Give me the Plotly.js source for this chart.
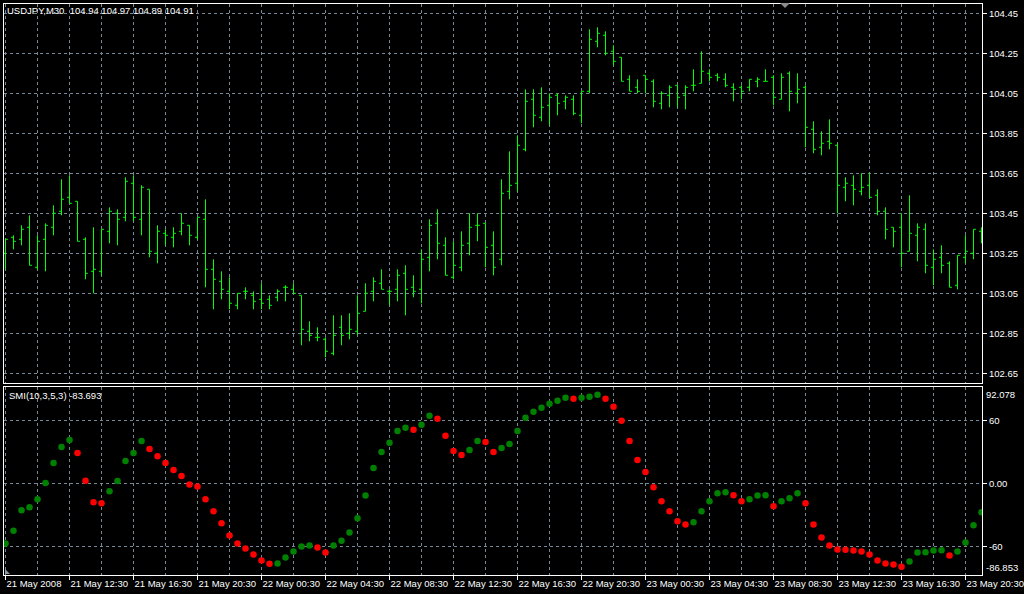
<!DOCTYPE html>
<html><head><meta charset="utf-8">
<script src="https://cdn.plot.ly/plotly-3.0.1.min.js"></script>
<style>html,body{margin:0;padding:0;background:#000;}#chart{width:1024px;height:594px;}</style>
</head><body><div id="chart"></div>
<script>
const symbolTitle = "USDJPY,M30\u00a0\u00a0104.94 104.97 104.89 104.91";
const smiTitle = "SMI(10,3,5,3) -83.693";

const barOpen = [103.25,103.33,103.32,103.38,103.18,103.32,103.38,103.46,103.53,103.51,
 103.32,103.16,103.16,103.36,103.45,103.43,103.60,103.42,103.57,103.25,
 103.35,103.33,103.36,103.39,103.33,103.42,103.17,103.11,103.06,102.99,
 103.06,103.04,103.02,103.02,103.03,103.08,103.07,103.04,102.86,102.83,
 102.82,102.75,102.88,102.85,102.86,102.96,103.06,103.10,103.06,103.07,
 103.15,103.08,103.07,103.23,103.40,103.29,103.13,103.18,103.30,103.39,
 103.40,103.29,103.22,103.56,103.60,103.77,104.02,103.93,103.99,104.04,
 104.01,104.02,103.94,104.06,104.31,104.34,104.26,104.23,104.12,104.08,
 104.14,104.11,104.00,104.04,104.09,104.04,104.09,104.10,104.15,104.14,
 104.12,104.08,104.08,104.08,104.11,104.11,104.13,104.02,104.15,104.05,
 104.08,103.87,103.78,103.81,103.79,103.58,103.59,103.56,103.59,103.54,
 103.46,103.38,103.38,103.26,103.34,103.37,103.18,103.23,103.20,103.09,
 103.23,103.25,103.36];
const barHigh = [103.32,103.34,103.39,103.44,103.34,103.40,103.49,103.62,103.64,103.51,
 103.33,103.38,103.37,103.48,103.47,103.63,103.64,103.59,103.57,103.39,
 103.37,103.38,103.45,103.39,103.43,103.52,103.22,103.16,103.13,103.05,
 103.08,103.06,103.10,103.04,103.07,103.09,103.10,103.04,102.91,102.88,
 102.83,102.94,102.94,102.95,103.04,103.10,103.13,103.17,103.07,103.17,
 103.19,103.14,103.27,103.42,103.47,103.33,103.31,103.36,103.45,103.45,
 103.40,103.36,103.62,103.76,103.84,104.07,104.07,104.08,104.05,104.05,
 104.04,104.04,104.06,104.37,104.38,104.36,104.29,104.23,104.14,104.12,
 104.14,104.12,104.06,104.09,104.09,104.09,104.17,104.26,104.17,104.15,
 104.15,104.10,104.09,104.12,104.13,104.17,104.14,104.15,104.16,104.15,
 104.09,103.91,103.86,103.92,103.80,103.63,103.64,103.65,103.65,103.57,
 103.48,103.38,103.45,103.54,103.40,103.40,103.27,103.29,103.21,103.24,
 103.34,103.37,103.38];
const barLow = [103.17,103.27,103.29,103.19,103.17,103.16,103.34,103.44,103.50,103.31,
 103.12,103.05,103.14,103.30,103.29,103.41,103.41,103.34,103.23,103.20,
 103.29,103.28,103.34,103.29,103.32,103.08,102.97,103.02,102.97,102.97,
 103.02,102.97,102.97,102.97,103.01,103.01,103.05,102.79,102.81,102.81,
 102.73,102.74,102.79,102.82,102.84,102.96,103.01,103.07,102.99,103.01,
 102.94,103.03,103.00,103.16,103.22,103.14,103.12,103.16,103.24,103.31,
 103.18,103.14,103.19,103.52,103.56,103.76,103.88,103.91,103.89,103.94,
 103.97,103.94,103.90,104.05,104.28,104.24,104.19,104.11,104.06,104.05,
 104.05,103.98,103.97,103.98,103.98,103.97,104.06,104.10,104.11,104.11,
 104.08,104.01,104.02,104.06,104.08,104.11,103.99,104.02,103.96,104.00,
 103.78,103.75,103.74,103.77,103.45,103.51,103.49,103.54,103.53,103.44,
 103.32,103.28,103.18,103.26,103.21,103.15,103.09,103.15,103.08,103.07,
 103.20,103.22,103.30];
const barClose = [103.32,103.31,103.37,103.19,103.31,103.39,103.45,103.52,103.50,103.31,
 103.15,103.17,103.37,103.46,103.42,103.61,103.43,103.58,103.26,103.36,
 103.34,103.35,103.40,103.34,103.43,103.17,103.12,103.07,103.00,103.05,
 103.06,103.01,103.00,102.99,103.06,103.08,103.05,102.87,102.84,102.83,
 102.76,102.84,102.84,102.87,102.95,103.05,103.11,103.07,103.06,103.14,
 103.07,103.06,103.22,103.39,103.30,103.14,103.19,103.29,103.38,103.39,
 103.28,103.18,103.55,103.59,103.79,104.01,103.94,103.98,104.03,104.00,
 104.03,103.95,104.06,104.32,104.35,104.25,104.21,104.11,104.06,104.06,
 104.12,104.01,104.05,104.08,104.03,104.08,104.09,104.16,104.13,104.13,
 104.09,104.07,104.06,104.12,104.12,104.11,104.03,104.13,104.06,104.07,
 103.88,103.77,103.80,103.80,103.59,103.60,103.57,103.58,103.53,103.46,
 103.37,103.36,103.25,103.35,103.38,103.19,103.22,103.19,103.08,103.24,
 103.26,103.37,103.35];

const smiValues = [-56.8,-44.7,-25.2,-22.4,-14.7,0.6,19.7,35.0,41.7,29.3,
 2.9,-17.6,-18.6,-7.1,2.5,21.6,29.3,40.8,33.1,26.1,
 19.7,13.0,7.3,-0.7,-2.6,-14.7,-26.2,-37.7,-49.2,-56.8,
 -61.6,-67.4,-73.1,-76.2,-75.9,-70.2,-64.5,-59.7,-58.8,-60.7,
 -65.5,-58.8,-54.2,-46.3,-32.9,-11.2,14.9,30.2,38.9,50.3,
 53.2,51.3,56.1,64.7,61.8,45.6,31.2,27.4,32.2,40.8,
 39.8,30.2,34.1,37.9,50.3,62.8,68.5,72.3,76.2,79.0,
 81.9,81.0,81.9,82.9,84.8,81.0,73.3,59.9,40.8,22.6,
 11.1,-3.3,-16.7,-26.2,-35.8,-38.7,-36.7,-26.2,-16.7,-9.0,
 -8.0,-10.9,-16.7,-14.7,-11.1,-10.9,-21.4,-16.7,-13.8,-9.0,
 -18.6,-38.7,-51.1,-58.8,-62.6,-62.8,-63.5,-64.5,-67.4,-73.1,
 -76.0,-76.9,-78.9,-74.1,-65.5,-65.3,-63.5,-63.3,-68.3,-64.5,
 -55.9,-39.6,-27.2];

const timeLabels = ["21 May 2008","21 May 12:30","21 May 16:30","21 May 20:30","22 May 00:30",
 "22 May 04:30","22 May 08:30","22 May 12:30","22 May 16:30","22 May 20:30","23 May 00:30",
 "23 May 04:30","23 May 08:30","23 May 12:30","23 May 16:30","23 May 20:30"];
const priceTicks = [102.65,102.85,103.05,103.25,103.45,103.65,103.85,104.05,104.25,104.45];
const smiTicks = [60, 0, -60];
const smiTickText = ["60", "0.00", "-60"];
const smiMax = 92.078, smiMin = -86.853;

// ---- layout geometry ----
const W = 1024, H = 594;
const L = 4, R = 42, T = 4, B = 19;
const plotH = H - T - B;
const pyToPaper = py => (H - B - py) / plotH;
const pxToPaper = px => (px - L) / (W - L - R);
const barsPerLabel = 8, barsPerGrid = 4;
const barPx = 8;
const x0 = -1.5 / barPx;
const x1 = x0 + (W - L - R) / barPx;

const idx = barOpen.map((_, i) => i);
const labelPos = timeLabels.map((_, k) => k * barsPerLabel);
const minorPos = labelPos.map(v => v + barsPerGrid);

const smiColors = smiValues.map((v, i) => (i === 0 || v > smiValues[i - 1]) ? '#008000' : '#ff0000');

const FONT = 'Liberation Sans, Arial, sans-serif';
const GRID = '#778899';
const DASH = '3px,3px';

const traces = [
  {
    type: 'ohlc', x: idx, open: barOpen, high: barHigh, low: barLow, close: barClose,
    xaxis: 'x2', yaxis: 'y', tickwidth: 0.3,
    increasing: {line: {color: '#00ff00', width: 1}},
    decreasing: {line: {color: '#00ff00', width: 1}},
    hoverinfo: 'skip'
  },
  {
    type: 'scatter', mode: 'markers', x: idx, y: smiValues, xaxis: 'x', yaxis: 'y2',
    marker: {color: smiColors, size: 6.5, line: {width: 0}}, hoverinfo: 'skip'
  }
];

const axisCommon = {
  showline: true, mirror: true, linecolor: '#ffffff', linewidth: 1,
  zeroline: false, gridcolor: GRID, griddash: DASH, gridwidth: 1,
  tickfont: {family: FONT, size: 9.5, color: '#ffffff'}
};

function tri(pts) {
  return 'M' + pts.map(p => pxToPaper(p[0]) + ',' + pyToPaper(p[1])).join(' L') + ' Z';
}

const layout = {
  width: W, height: H,
  margin: {l: L, r: R, t: T, b: B, pad: 0},
  paper_bgcolor: '#000000', plot_bgcolor: '#000000',
  showlegend: false,
  xaxis: Object.assign({}, axisCommon, {
    anchor: 'y2', range: [x0, x1], tickmode: 'array', tickvals: labelPos, ticktext: timeLabels,
    ticks: 'outside', ticklen: 4, tickcolor: '#ffffff', ticklabelposition: 'outside right',
    ticklabeloverflow: 'allow', tickangle: 0, automargin: false,
    showgrid: true, rangeslider: {visible: false},
    minor: {tickmode: 'array', tickvals: minorPos, showgrid: true, gridcolor: GRID, griddash: DASH, gridwidth: 1, ticks: ''}
  }),
  xaxis2: Object.assign({}, axisCommon, {
    anchor: 'y', matches: 'x', range: [x0, x1], tickmode: 'linear', tick0: 0, dtick: barsPerGrid,
    showticklabels: false, ticks: '', showgrid: true, rangeslider: {visible: false}
  }),
  yaxis: Object.assign({}, axisCommon, {
    domain: [pyToPaper(383), 1], anchor: 'x2', side: 'right', automargin: false,
    range: [104.45 - (383 - 13.3) / 200, 104.45 + (13.3 - 4) / 200],
    tickmode: 'array', tickvals: priceTicks, ticktext: priceTicks.map(v => v.toFixed(2)),
    ticks: 'outside', ticklen: 4, tickcolor: '#ffffff', showgrid: true
  }),
  yaxis2: Object.assign({}, axisCommon, {
    domain: [0, pyToPaper(387)], anchor: 'x', side: 'right', automargin: false,
    range: [smiMin, smiMax],
    tickmode: 'array', tickvals: smiTicks, ticktext: smiTickText,
    ticks: 'outside', ticklen: 4, tickcolor: '#ffffff', showgrid: true
  }),
  shapes: [
    {type: 'path', xref: 'paper', yref: 'paper', path: tri([[780, 3], [790, 3], [785, 8]]),
     fillcolor: '#8c8c8c', line: {width: 0}},
    {type: 'path', xref: 'paper', yref: 'paper', path: tri([[5, 569], [5, 574], [10, 574]]),
     fillcolor: '#8c9aa8', line: {width: 0}}
  ],
  annotations: [
    {text: symbolTitle, xref: 'paper', yref: 'paper', x: pxToPaper(5), y: pyToPaper(11),
     xanchor: 'left', yanchor: 'middle', showarrow: false, font: {family: FONT, size: 9.5, color: '#ffffff'}},
    {text: smiTitle, xref: 'paper', yref: 'paper', x: pxToPaper(7), y: pyToPaper(395.5),
     xanchor: 'left', yanchor: 'middle', showarrow: false, font: {family: FONT, size: 9.5, color: '#ffffff'}},
    {text: smiMax.toFixed(3), xref: 'paper', yref: 'y2', x: pxToPaper(984), y: smiMax,
     xanchor: 'left', yanchor: 'top', showarrow: false, font: {family: FONT, size: 9.5, color: '#ffffff'}},
    {text: smiMin.toFixed(3), xref: 'paper', yref: 'y2', x: pxToPaper(984), y: smiMin,
     xanchor: 'left', yanchor: 'bottom', showarrow: false, font: {family: FONT, size: 9.5, color: '#ffffff'}}
  ]
};

Plotly.newPlot('chart', traces, layout, {displayModeBar: false, staticPlot: true});
</script>
</body></html>
